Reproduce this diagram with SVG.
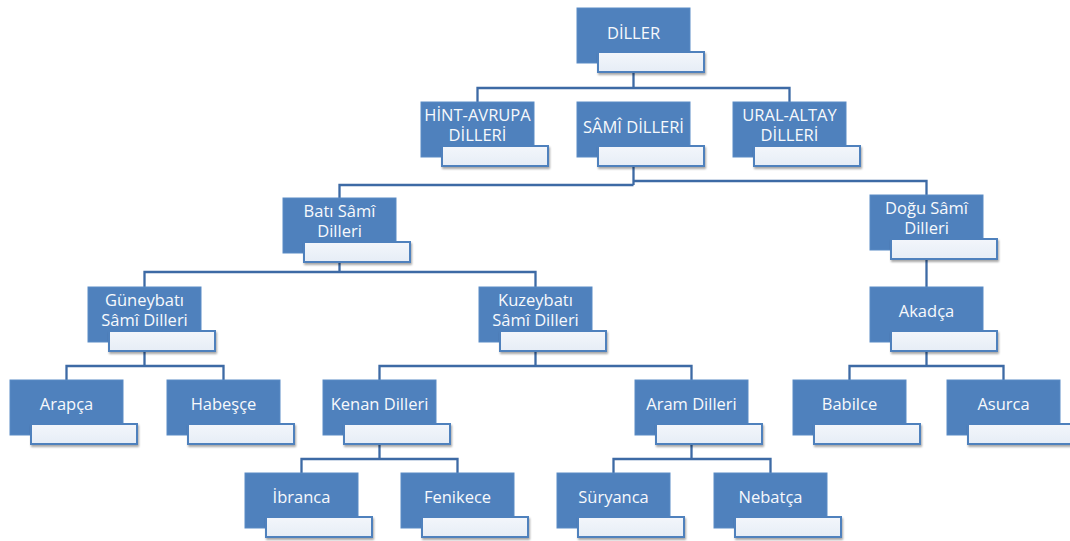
<svg xmlns="http://www.w3.org/2000/svg" width="1070" height="541" viewBox="0 0 1070 541">
<defs>
<linearGradient id="wg" x1="0" y1="0" x2="0" y2="1">
<stop offset="0" stop-color="#f3f6fb"/>
<stop offset="1" stop-color="#e6edf6"/>
</linearGradient>
<filter id="sh" x="-10%" y="-20%" width="130%" height="160%">
<feGaussianBlur in="SourceAlpha" stdDeviation="1"/>
<feOffset dx="1" dy="1.5"/>
<feComponentTransfer><feFuncA type="linear" slope="0.35"/></feComponentTransfer>
<feMerge><feMergeNode/><feMergeNode in="SourceGraphic"/></feMerge>
</filter>
</defs>
<style>
.b{fill:#4f81bd;stroke:#5a8bc5;stroke-width:1}
.w{fill:url(#wg);stroke:#4f81bd;stroke-width:2;filter:url(#sh)}
.t{fill:#f7f9fc;font-family:"Open Sans","Noto Sans",sans-serif;font-size:16.5px;text-anchor:middle}
.c{fill:none;stroke:#3d6aa5;stroke-width:2.3}
</style>
<rect width="1070" height="541" fill="#ffffff"/>
<g id="connectors">
<path class="c" d="M633.5,72V88M477.5,102V88H789.5V102"/>
<path class="c" d="M633.5,166V185M633.5,185H339.5V198M633.5,181H926.5V195"/>
<path class="c" d="M339.5,262V272M144.5,287V272H535.5V287"/>
<path class="c" d="M926.5,259V287"/>
<path class="c" d="M144.5,351V366M66.5,380V366H223.5V380"/>
<path class="c" d="M535.5,351V366M379.5,380V366H691.5V380"/>
<path class="c" d="M926.5,351V366M849.5,380V366H1003.5V380"/>
<path class="c" d="M379.5,444V459M301.5,473V459H457.5V473"/>
<path class="c" d="M691.5,444V459M613.5,473V459H770.5V473"/>
</g>
<g id="n-diller"><rect class="b" x="577" y="8" width="113" height="55"/><rect class="w" x="598" y="52" width="106" height="20"/><text class="t" x="633.5" y="39">DİLLER</text></g>
<g id="n-hint"><rect class="b" x="421" y="102" width="113" height="55"/><rect class="w" x="442" y="146" width="106" height="20"/><text class="t" x="477.5" y="121">HİNT-AVRUPA<tspan x="477.5" dy="20">DİLLERİ</tspan></text></g>
<g id="n-sami"><rect class="b" x="577" y="102" width="113" height="55"/><rect class="w" x="598" y="146" width="106" height="20"/><text class="t" x="633.5" y="133">SÂMÎ DİLLERİ</text></g>
<g id="n-ural"><rect class="b" x="733" y="102" width="113" height="55"/><rect class="w" x="754" y="146" width="106" height="20"/><text class="t" x="789.5" y="121">URAL-ALTAY<tspan x="789.5" dy="20">DİLLERİ</tspan></text></g>
<g id="n-bati"><rect class="b" x="283" y="198" width="113" height="55"/><rect class="w" x="304" y="242" width="106" height="20"/><text class="t" x="339.5" y="217">Batı Sâmî<tspan x="339.5" dy="20">Dilleri</tspan></text></g>
<g id="n-dogu"><rect class="b" x="870" y="195" width="113" height="55"/><rect class="w" x="891" y="239" width="106" height="20"/><text class="t" x="926.5" y="214">Doğu Sâmî<tspan x="926.5" dy="20">Dilleri</tspan></text></g>
<g id="n-guneybati"><rect class="b" x="88" y="287" width="113" height="55"/><rect class="w" x="109" y="331" width="106" height="20"/><text class="t" x="144.5" y="306">Güneybatı<tspan x="144.5" dy="20">Sâmî Dilleri</tspan></text></g>
<g id="n-kuzeybati"><rect class="b" x="479" y="287" width="113" height="55"/><rect class="w" x="500" y="331" width="106" height="20"/><text class="t" x="535.5" y="306">Kuzeybatı<tspan x="535.5" dy="20">Sâmî Dilleri</tspan></text></g>
<g id="n-akadca"><rect class="b" x="870" y="287" width="113" height="55"/><rect class="w" x="891" y="331" width="106" height="20"/><text class="t" x="926.5" y="317">Akadça</text></g>
<g id="n-arapca"><rect class="b" x="10" y="380" width="113" height="55"/><rect class="w" x="31" y="424" width="106" height="20"/><text class="t" x="66.5" y="410">Arapça</text></g>
<g id="n-habesce"><rect class="b" x="167" y="380" width="113" height="55"/><rect class="w" x="188" y="424" width="106" height="20"/><text class="t" x="223.5" y="410">Habeşçe</text></g>
<g id="n-kenan"><rect class="b" x="323" y="380" width="113" height="55"/><rect class="w" x="344" y="424" width="106" height="20"/><text class="t" x="379.5" y="410">Kenan Dilleri</text></g>
<g id="n-aram"><rect class="b" x="635" y="380" width="113" height="55"/><rect class="w" x="656" y="424" width="106" height="20"/><text class="t" x="691.5" y="410">Aram Dilleri</text></g>
<g id="n-babilce"><rect class="b" x="793" y="380" width="113" height="55"/><rect class="w" x="814" y="424" width="106" height="20"/><text class="t" x="849.5" y="410">Babilce</text></g>
<g id="n-asurca"><rect class="b" x="947" y="380" width="113" height="55"/><rect class="w" x="968" y="424" width="106" height="20"/><text class="t" x="1003.5" y="410">Asurca</text></g>
<g id="n-ibranca"><rect class="b" x="245" y="473" width="113" height="55"/><rect class="w" x="266" y="517" width="106" height="20"/><text class="t" x="301.5" y="503">İbranca</text></g>
<g id="n-fenikece"><rect class="b" x="401" y="473" width="113" height="55"/><rect class="w" x="422" y="517" width="106" height="20"/><text class="t" x="457.5" y="503">Fenikece</text></g>
<g id="n-suryanca"><rect class="b" x="557" y="473" width="113" height="55"/><rect class="w" x="578" y="517" width="106" height="20"/><text class="t" x="613.5" y="503">Süryanca</text></g>
<g id="n-nebatca"><rect class="b" x="714" y="473" width="113" height="55"/><rect class="w" x="735" y="517" width="106" height="20"/><text class="t" x="770.5" y="503">Nebatça</text></g>
</svg>
